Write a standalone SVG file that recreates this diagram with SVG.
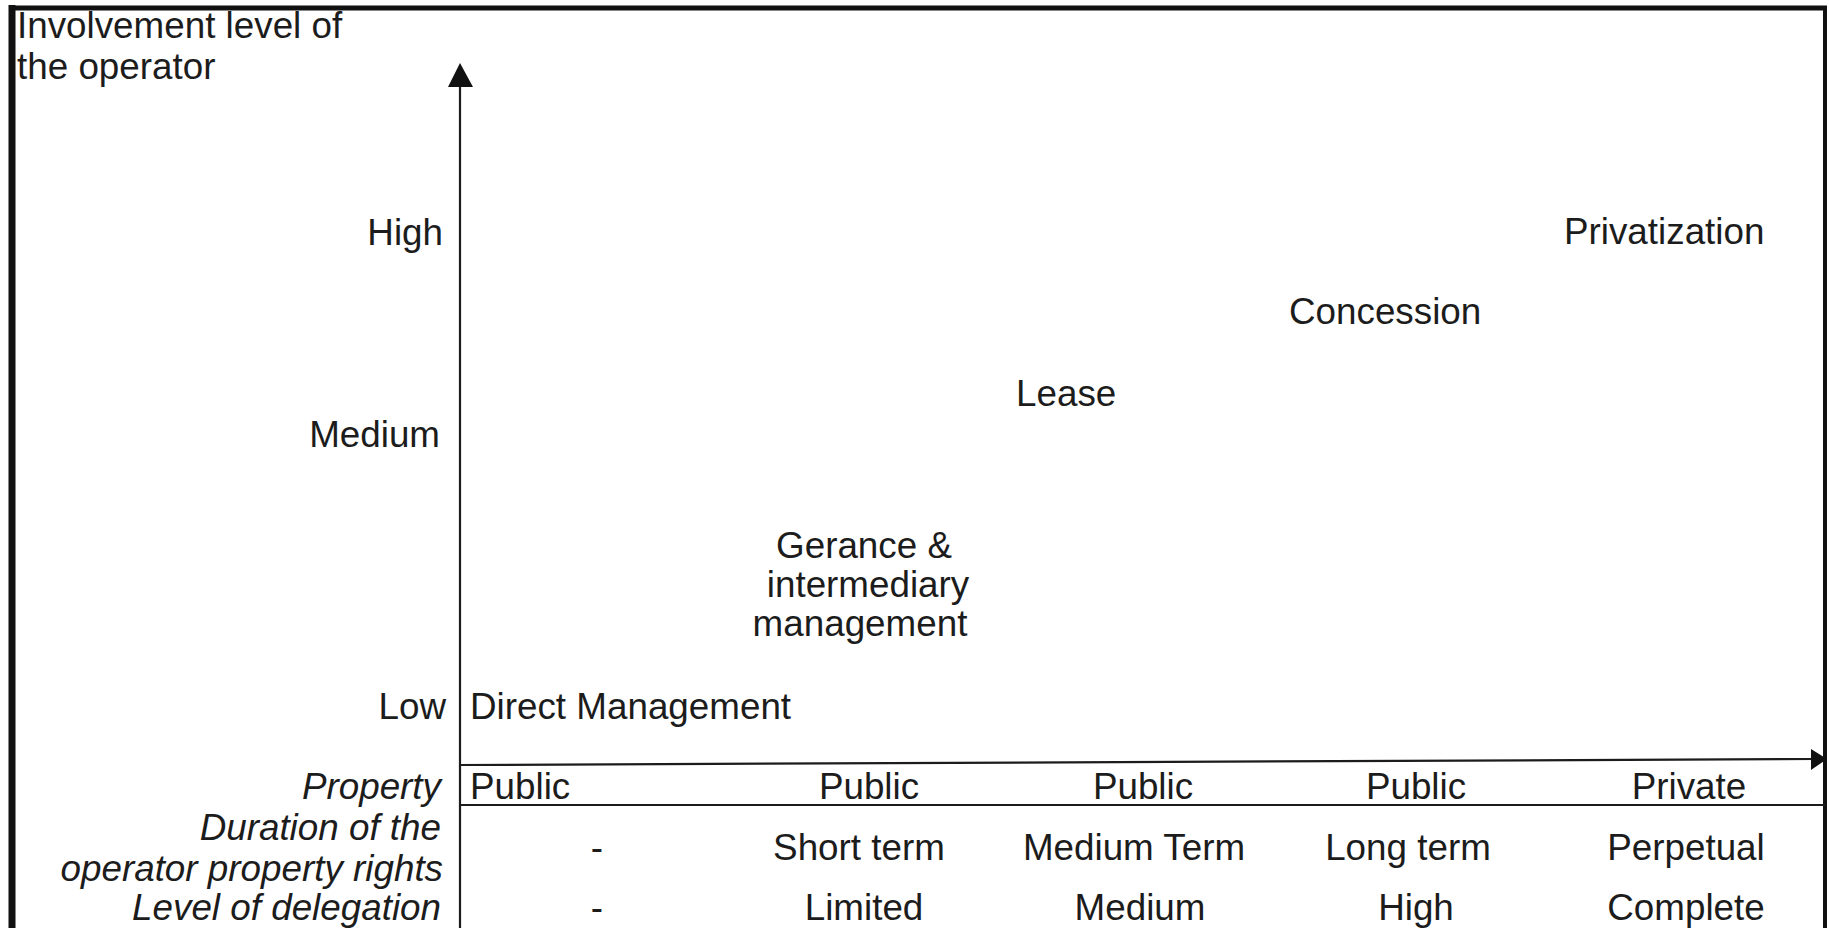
<svg xmlns="http://www.w3.org/2000/svg" width="1829" height="928" viewBox="0 0 1829 928">
  <style>
    text { font-family: "Liberation Sans", Arial, sans-serif; font-size: 36.8px; fill: #1c1c1c; }
    .r { text-anchor: end; }
    .c { text-anchor: middle; }
    .i { font-style: italic; }
    .ax { stroke: #1c1c1c; stroke-width: 2.2; fill: none; }
    .frame { stroke: #111; fill: none; }
    .head { fill: #111; }
  </style>
  <rect width="1829" height="928" fill="#fff"/>

  <!-- outer frame -->
  <g id="frame">
    <line class="frame" x1="12" y1="5" x2="12" y2="928" stroke-width="7"/>
    <line class="frame" x1="9" y1="8" x2="1827" y2="8" stroke-width="5"/>
    <line class="frame" x1="1825" y1="6" x2="1825" y2="928" stroke-width="4"/>
  </g>

  <!-- axes and table rules -->
  <g id="connectors">
    <line class="ax" x1="460" y1="928" x2="460" y2="70"/>
    <path class="head" d="M448 87 L460 63 L473 87 Z"/>
    <line class="ax" x1="460" y1="765" x2="1815" y2="759"/>
    <path class="head" d="M1811 749 L1827 759 L1811 770 Z"/>
    <line class="ax" x1="460" y1="805" x2="1825" y2="805"/>
  </g>

  <!-- axis title -->
  <g id="axis-title">
    <text x="17" y="38">Involvement level of</text>
    <text x="17" y="79">the operator</text>
  </g>

  <!-- vertical scale -->
  <g id="level-high"><text class="r" x="443" y="245">High</text></g>
  <g id="level-medium"><text class="r" x="440" y="447">Medium</text></g>
  <g id="level-low"><text class="r" x="446" y="719">Low</text></g>

  <!-- management forms -->
  <g id="node-direct"><text x="470" y="719">Direct Management</text></g>
  <g id="node-gerance">
    <text class="c" x="864" y="558">Gerance &amp;</text>
    <text class="c" x="868" y="597">intermediary</text>
    <text class="c" x="860" y="636">management</text>
  </g>
  <g id="node-lease"><text x="1016" y="406">Lease</text></g>
  <g id="node-concession"><text x="1289" y="324">Concession</text></g>
  <g id="node-privatization"><text x="1564" y="244">Privatization</text></g>

  <!-- row headings -->
  <g id="row-labels">
    <text class="r i" x="441" y="799">Property</text>
    <text class="r i" x="441" y="840">Duration of the</text>
    <text class="r i" x="443" y="881">operator property rights</text>
    <text class="r i" x="441" y="920">Level of delegation</text>
  </g>

  <!-- property row -->
  <g id="row-property">
    <text x="470" y="799">Public</text>
    <text class="c" x="869" y="799">Public</text>
    <text class="c" x="1143" y="799">Public</text>
    <text class="c" x="1416" y="799">Public</text>
    <text class="c" x="1689" y="799">Private</text>
  </g>

  <!-- duration row -->
  <g id="row-duration">
    <text class="c" x="597" y="860">-</text>
    <text class="c" x="859" y="860">Short term</text>
    <text class="c" x="1134" y="860">Medium Term</text>
    <text class="c" x="1408" y="860">Long term</text>
    <text class="c" x="1686" y="860">Perpetual</text>
  </g>

  <!-- delegation row -->
  <g id="row-delegation">
    <text class="c" x="597" y="920">-</text>
    <text class="c" x="864" y="920">Limited</text>
    <text class="c" x="1140" y="920">Medium</text>
    <text class="c" x="1416" y="920">High</text>
    <text class="c" x="1686" y="920">Complete</text>
  </g>
</svg>
